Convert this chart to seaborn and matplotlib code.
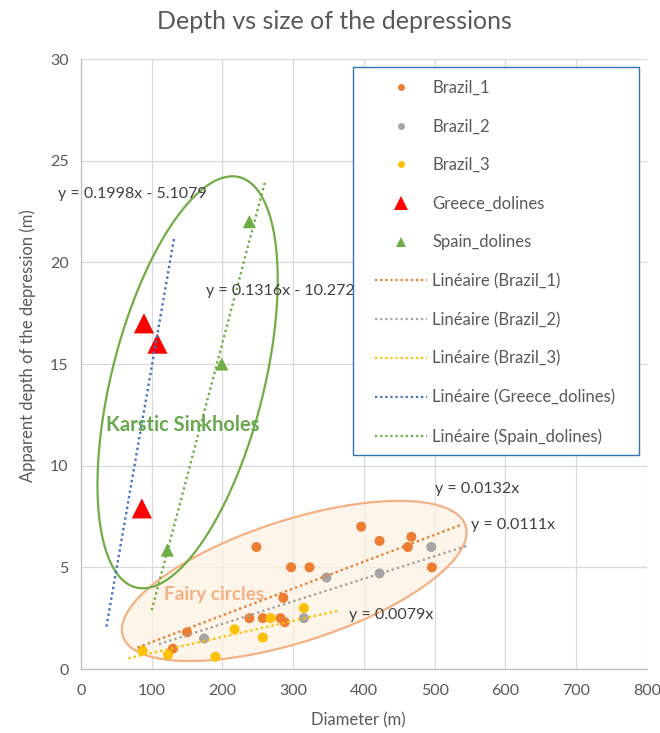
import numpy as np
import pandas as pd
import matplotlib
matplotlib.use("Agg")
import matplotlib.pyplot as plt
from matplotlib.lines import Line2D
from matplotlib.patches import Rectangle
import seaborn as sns

# ---- measurements -------------------------------------------------------
brazil1_x = [130, 150, 238, 257, 282, 288, 286, 248, 297, 323, 396, 422, 467, 462, 496]
brazil1_y = [1.0, 1.8, 2.5, 2.5, 2.5, 2.3, 3.5, 6.0, 5.0, 5.0, 7.0, 6.3, 6.5, 6.0, 5.0]

brazil2_x = [174, 315, 347, 422, 495]
brazil2_y = [1.5, 2.5, 4.5, 4.7, 6.0]

brazil3_x = [87, 123, 190, 217, 257, 268, 315]
brazil3_y = [0.9, 0.7, 0.6, 1.95, 1.55, 2.5, 3.0]

greece_x = [89, 108, 86]
greece_y = [17.0, 16.0, 7.9]

spain_x = [122, 199, 238]
spain_y = [5.85, 15.0, 22.0]

series_names = ["Brazil_1", "Brazil_2", "Brazil_3", "Greece_dolines", "Spain_dolines"]

# linear trends (slope, intercept) and the diameter range each is drawn over
trend_slope = [0.0132, 0.0111, 0.0079, 0.1998, 0.1316]
trend_intercept = [0.0, 0.0, 0.0, -5.1079, -10.272]
trend_x_start = [80, 110, 67, 36, 100]
trend_x_end = [536, 548, 362, 132, 260]

x_ticks = list(range(0, 801, 100))
y_ticks = list(range(0, 31, 5))

# ---- styling --------------------------------------------------------------
point_colors = ["#ED7D31", "#A5A5A5", "#FFC000", "#FF0000", "#70AD47"]
trend_colors = ["#ED7D31", "#A5A5A5", "#FFC000", "#4472C4", "#70AD47"]
markers = ["o", "o", "o", "^", "^"]
marker_area = [52, 52, 52, 210, 90]
legend_msize = [5, 5, 5, 10, 7]

# equation label anchors (data coords)
eq_pos = [(501, 8.85), (551, 7.08), (379, 2.66), (-32, 23.35), (177, 18.6)]

text_grey = "#595959"

sns.set_theme(style="whitegrid")
plt.rcParams["font.family"] = ["Lato", "DejaVu Sans"]

df = pd.DataFrame({
    "Diameter": brazil1_x + brazil2_x + brazil3_x + greece_x + spain_x,
    "Depth": brazil1_y + brazil2_y + brazil3_y + greece_y + spain_y,
    "Series": (["Brazil_1"] * len(brazil1_x) + ["Brazil_2"] * len(brazil2_x)
               + ["Brazil_3"] * len(brazil3_x) + ["Greece_dolines"] * len(greece_x)
               + ["Spain_dolines"] * len(spain_x)),
})

fig = plt.figure(figsize=(6.6, 7.33), dpi=100)
ax = fig.add_axes([0.1227, 0.0873, 0.8576, 0.8322])
ax.set_facecolor("white")

ax.set_xlim(0, 800)
ax.set_ylim(0, 30)
ax.set_xticks(x_ticks)
ax.set_yticks(y_ticks)
ax.grid(True, color="#D9D9D9", linewidth=0.9)
for side in ["top", "right"]:
    ax.spines[side].set_visible(False)
for side in ["left", "bottom"]:
    ax.spines[side].set_color("#BFBFBF")
    ax.spines[side].set_linewidth(0.9)
ax.tick_params(axis="both", length=0, labelsize=11.5, labelcolor=text_grey)
ax.tick_params(axis="x", pad=11)
ax.tick_params(axis="y", pad=9)


# highlight ellipses (centre + two conjugate half-axes, data units)
def ellipse_xy(cx, cy, ux, uy, vx, vy, n=300):
    t = np.linspace(0, 2 * np.pi, n)
    return cx + ux * np.cos(t) + vx * np.sin(t), cy + uy * np.cos(t) + vy * np.sin(t)


fx, fy = ellipse_xy(301.4, 4.33, 242.2, 2.716, -26.2, 2.853)
ax.fill(fx, fy, color="#FDF1E3", alpha=0.75, zorder=1, lw=0)
ax.plot(fx, fy, color="#F4B183", lw=1.6, zorder=2)

kx, ky = ellipse_xy(150.7, 14.1, 73.1, 10.09, 104.3, -0.92)
ax.plot(kx, ky, color="#70AD47", lw=1.6, zorder=2)

# points
for name, col, mk, s in zip(series_names, point_colors, markers, marker_area):
    sub = df[df["Series"] == name]
    sns.scatterplot(data=sub, x="Diameter", y="Depth", color=col, marker=mk,
                    s=s, edgecolor="none", linewidth=0, ax=ax, zorder=3,
                    legend=False)

# trend lines
for i, name in enumerate(series_names):
    xs = np.array([trend_x_start[i], trend_x_end[i]], dtype=float)
    ys = trend_slope[i] * xs + trend_intercept[i]
    ax.plot(xs, ys, color=trend_colors[i], lw=1.7, linestyle=(0, (1, 1.3)),
            zorder=4)
    b = trend_intercept[i]
    if b == 0:
        label = f"y = {trend_slope[i]}x"
    else:
        label = f"y = {trend_slope[i]}x - {abs(b)}"
    ax.text(eq_pos[i][0], eq_pos[i][1], label, fontsize=11.5, color="#404040",
            ha="left", va="center", zorder=4)

ax.text(35, 12.0, "Karstic Sinkholes", fontsize=14.5, fontweight="bold",
        color="#6AA84F", ha="left", va="center", zorder=4)
ax.text(118, 3.65, "Fairy circles", fontsize=13.7, fontweight="bold",
        color="#F4B183", ha="left", va="center", zorder=4)

ax.set_xlabel("Diameter (m)", fontsize=12, color=text_grey)
ax.set_ylabel("Apparent depth of the depression (m)", fontsize=12, color=text_grey)
ax.xaxis.set_label_coords(0.49, -0.0705)
ax.yaxis.set_label_coords(-0.0795, 0.53)

fig.text(0.506, 0.97, "Depth vs size of the depressions", fontsize=18,
         color=text_grey, ha="center", va="center")

# legend box
box = Rectangle((0.4806, 0.3508), 0.5053, 0.6361, transform=ax.transAxes,
                facecolor="white", edgecolor="#2E75B6", lw=1.0, zorder=5)
ax.add_patch(box)

handles = []
labels = []
for name, col, mk, ms in zip(series_names, point_colors, markers, legend_msize):
    handles.append(Line2D([], [], linestyle="none", marker=mk, color=col,
                          markersize=ms, markeredgewidth=0))
    labels.append(name)
for name, col in zip(series_names, trend_colors):
    handles.append(Line2D([], [], color=col, lw=1.6, linestyle=(0, (1, 1.3))))
    labels.append(f"Linéaire ({name})")

leg = ax.legend(handles, labels, loc="upper left", bbox_to_anchor=(0.5194, 0.966),
                frameon=False, fontsize=12, labelcolor=text_grey,
                handlelength=3.15, handletextpad=0.3, labelspacing=1.36,
                borderpad=0, borderaxespad=0)
leg.set_zorder(6)

fig.savefig("out.png", dpi=100)
